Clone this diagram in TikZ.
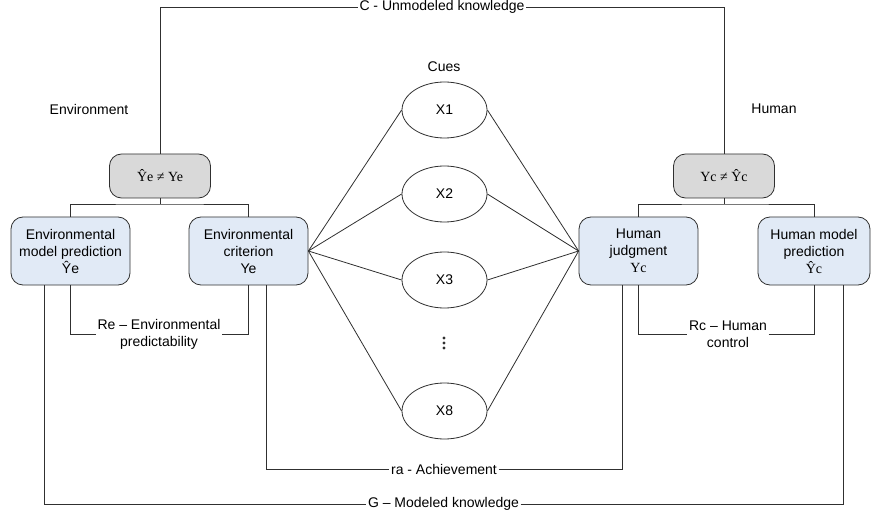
\documentclass[tikz,border=0pt]{standalone}
\usepackage{fontspec}
\setmainfont{Liberation Sans}
\newfontfamily\tms{Liberation Serif}
\usetikzlibrary{shapes.geometric}
\definecolor{boxblue}{HTML}{E1EAF6}
\definecolor{boxgray}{HTML}{D9D9D9}
\definecolor{linec}{HTML}{303030}
\begin{document}
\begin{tikzpicture}[x=1pt,y=-1pt,
  font=\fontsize{14}{17}\selectfont,
  bluebox/.style={draw=linec, fill=boxblue, rounded corners=12pt, minimum width=119pt, minimum height=68pt, align=center, inner sep=2pt, line width=0.8pt},
  graybox/.style={draw=linec, fill=boxgray, rounded corners=12pt, minimum width=101pt, minimum height=44pt, font=\fontsize{14}{17}\selectfont\tms, line width=0.8pt},
  cue/.style={ellipse, draw=linec, minimum width=85pt, minimum height=56pt, inner sep=0pt, line width=0.8pt},
  lab/.style={inner sep=1.5pt, align=center},
  conn/.style={draw=linec, line width=0.8pt}]
\useasboundingbox (0,0) rectangle (871,516);

% boxes
\node[graybox] (egray) at (160,176) {Ŷe ≠ Ye};
\node[graybox] (hgray) at (724,176) {Yc ≠ Ŷc};
\node[bluebox] (emodel) at (70.5,251) {Environmental\\model prediction\\Ŷe};
\node[bluebox] (crit) at (248.5,251) {Environmental\\criterion\\Ye};
\node[bluebox] (judg) at (638.5,251) {Human\\judgment\\{\tms Yc}};
\node[bluebox, minimum width=112pt] (hmod) at (814,251) {Human model\\prediction\\{\tms Ŷc}};

% cues
\node[cue] (x1) at (444.5,110) {X1};
\node[cue] (x2) at (444.5,194) {X2};
\node[cue] (x3) at (444.5,280) {X3};
\node[cue] (x8) at (444.5,411) {X8};
\node[inner sep=0pt, minimum size=14pt] (dots) at (444,343) {};
\foreach \d in {-5,0,5} \fill[linec] (dots.center) ++(0,\d) circle (1.6pt);

% free labels
\node (cues) at (444,67) {Cues};
\node (envt) at (89,109) {Environment};
\node (hum) at (774,109) {Human};

% line labels
\node[lab] (clab) at (442,7) {C - Unmodeled knowledge};
\node[lab] (relab) at (159,334) {Re – Environmental\\predictability};
\node[lab] (rclab) at (728,334) {Rc – Human\\control};
\node[lab] (ralab) at (444,469) {ra - Achievement};
\node[lab] (glab) at (443.5,504) {G – Modeled knowledge};

% branch points
\coordinate (ebr) at (160,204);
\coordinate (hbr) at (724,204);

% connectors
\draw[conn] (egray.north) |- (clab.west);
\draw[conn] (clab.east) -| (hgray.north);
\draw[conn] (egray.south) -- (ebr);
\draw[conn] (emodel.north) |- (ebr) -| (crit.north);
\draw[conn] (hgray.south) -- (hbr);
\draw[conn] (judg.north) |- (hbr) -| (hmod.north);

\draw[conn] (emodel.south) |- (relab.west);
\draw[conn] (relab.east) -| (crit.south);
\draw[conn] (judg.south) |- (rclab.west);
\draw[conn] (rclab.east) -| (hmod.south);

\draw[conn] ([xshift=17.5pt]crit.south) |- (ralab.west);
\draw[conn] (ralab.east) -| ([xshift=-16.5pt]judg.south);
\draw[conn] ([xshift=-26.5pt]emodel.south) |- (glab.west);
\draw[conn] (glab.east) -| ([xshift=29pt]hmod.south);

\foreach \c in {x1,x2,x3,x8} {
  \draw[conn] (crit.east) -- (\c.west);
  \draw[conn] (\c.east) -- (judg.west);
}
\end{tikzpicture}
\end{document}
